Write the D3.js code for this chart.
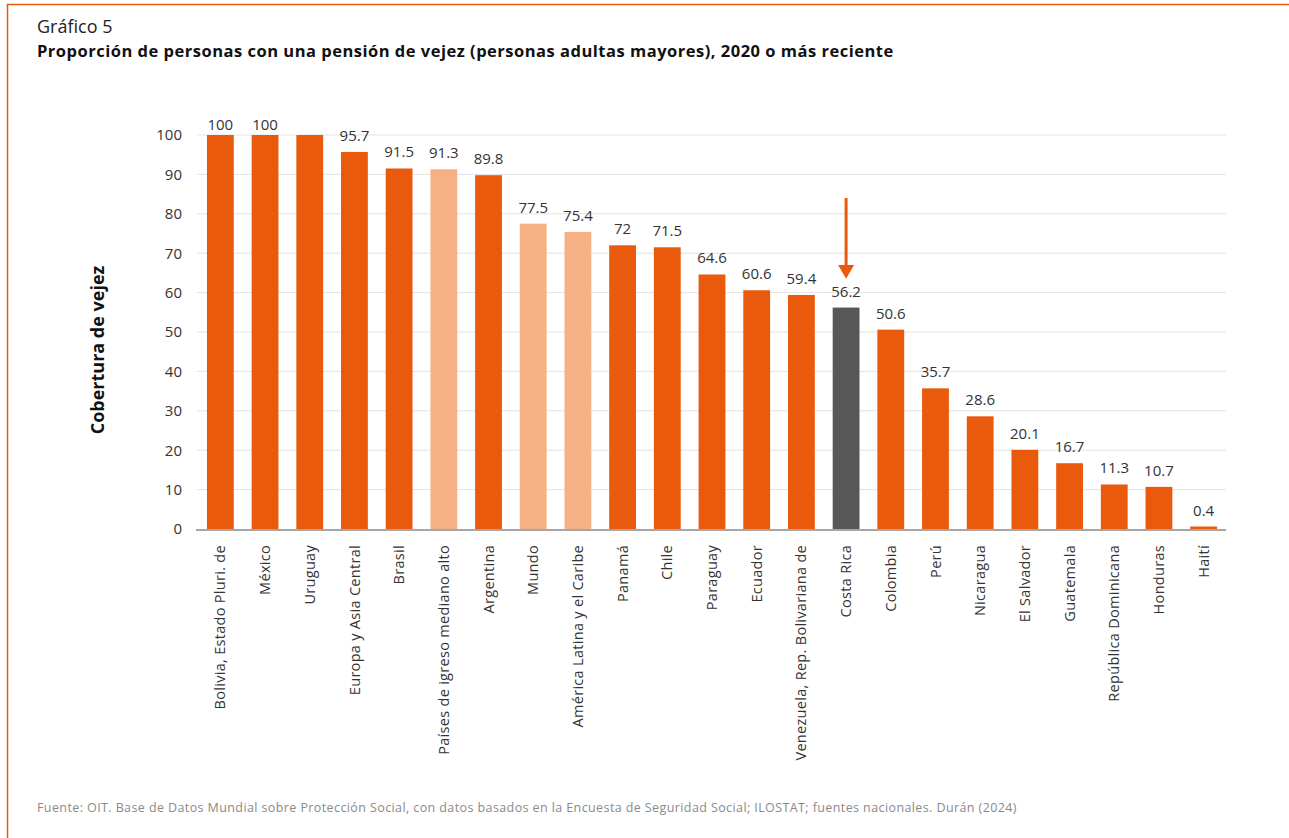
<!DOCTYPE html>
<html>
<head>
<meta charset="utf-8">
<script src="https://cdn.jsdelivr.net/npm/d3@7"></script>
<style>
  body { margin: 0; background: #fff; }
  svg { display: block; font-family: "Open Sans", "Noto Sans", sans-serif; }
</style>
</head>
<body>
<div class="svg-div"></div>
<script>
// datos del grafico
var paises = ["Bolivia, Estado Pluri. de", "México", "Uruguay", "Europa y Asia Central", "Brasil",
  "Países de igreso mediano alto", "Argentina", "Mundo", "América Latina y el Caribe", "Panamá",
  "Chile", "Paraguay", "Ecuador", "Venezuela, Rep. Bolivariana de", "Costa Rica", "Colombia",
  "Perú", "Nicaragua", "El Salvador", "Guatemala", "República Dominicana", "Honduras", "Haití"];
var cobertura = [100, 100, 100, 95.7, 91.5, 91.3, 89.8, 77.5, 75.4, 72, 71.5, 64.6, 60.6, 59.4,
  56.2, 50.6, 35.7, 28.6, 20.1, 16.7, 11.3, 10.7, 0.4];
// etiqueta de cada barra (Uruguay no tiene)
var etiquetas = ["100", "100", "", "95.7", "91.5", "91.3", "89.8", "77.5", "75.4", "72", "71.5",
  "64.6", "60.6", "59.4", "56.2", "50.6", "35.7", "28.6", "20.1", "16.7", "11.3", "10.7", "0.4"];
// tipo: pais, agregado o destacado
var tipo = ["p", "p", "p", "p", "p", "a", "p", "a", "a", "p", "p", "p", "p", "p", "d", "p",
  "p", "p", "p", "p", "p", "p", "p"];
var yTicks = [0, 10, 20, 30, 40, 50, 60, 70, 80, 90, 100];
var destacado = "Costa Rica";

var w = 1289;
var h = 838;
var colores = { p: "#E95A0C", a: "#F5B183", d: "#575757" };

var svg = d3.select(".svg-div")
  .append("svg")
  .attr("width", w)
  .attr("height", h);

// marco naranja
svg.append("path")
  .attr("d", "M7.5," + h + " V4.5 H" + w)
  .attr("fill", "none")
  .attr("stroke", "#E95A0C")
  .attr("stroke-width", 1.5);

// titulos
svg.append("text")
  .attr("x", 37).attr("y", 33)
  .attr("font-size", 18).attr("fill", "#222")
  .text("Gráfico 5");
svg.append("text")
  .attr("x", 37).attr("y", 57)
  .attr("font-size", 16.5).attr("font-weight", "bold").attr("fill", "#111")
  .attr("letter-spacing", 0.5)
  .text("Proporción de personas con una pensión de vejez (personas adultas mayores), 2020 o más reciente");

var x = d3.scaleBand()
  .domain(paises)
  .range([198, 1226])
  .paddingInner(0.4)
  .paddingOuter(0.2);

var y = d3.scaleLinear()
  .domain([0, 100])
  .range([529, 135]);

// lineas de cuadricula
svg.append("g")
  .selectAll("line")
  .data(yTicks.filter(function(d) { return d > 0; }))
  .enter()
  .append("line")
  .attr("x1", 197).attr("x2", 1226)
  .attr("y1", function(d) { return y(d); })
  .attr("y2", function(d) { return y(d); })
  .attr("stroke", "#e3e3e3")
  .attr("stroke-width", 1);

// eje y
var yAxis = svg.append("g")
  .attr("transform", "translate(197,0)")
  .call(d3.axisLeft(y).tickValues(yTicks).tickSize(0).tickPadding(15));
yAxis.select(".domain").remove();
yAxis.selectAll("text")
  .attr("font-size", 15)
  .attr("fill", "#333")
  .attr("font-family", "Open Sans, sans-serif");

svg.append("text")
  .attr("transform", "translate(104,350) rotate(-90)")
  .attr("text-anchor", "middle")
  .attr("font-size", 18)
  .attr("font-weight", "bold")
  .attr("fill", "#111")
  .text("Cobertura de vejez");

// eje x (antes de las barras, para que Haití se vea)
var xAxis = svg.append("g")
  .attr("transform", "translate(0," + y(0) + ")")
  .call(d3.axisBottom(x).tickSize(0).tickPadding(0));
xAxis.select(".domain")
  .attr("d", "M196,1 H1226")
  .attr("stroke", "#a6a6a6")
  .attr("stroke-width", 2);
xAxis.selectAll("text")
  .attr("transform", "translate(0,16) rotate(-90)")
  .attr("text-anchor", "end")
  .attr("dy", "0.35em")
  .attr("dx", 0)
  .attr("y", 0)
  .attr("x", 0)
  .attr("font-size", 14.5)
  .attr("letter-spacing", 0.3)
  .attr("fill", "#333")
  .attr("font-family", "Open Sans, sans-serif");

// barras
svg.append("g")
  .selectAll("rect")
  .data(cobertura)
  .enter()
  .append("rect")
  .attr("x", function(d, i) { return x(paises[i]); })
  .attr("y", function(d) { return Math.min(y(d), y(0) - 2.5); })
  .attr("width", x.bandwidth())
  .attr("height", function(d) { return Math.max(y(0) - y(d), 2.5); })
  .attr("fill", function(d, i) { return colores[tipo[i]]; });

// etiquetas de valor
svg.append("g")
  .selectAll("text")
  .data(cobertura)
  .enter()
  .append("text")
  .attr("x", function(d, i) { return x(paises[i]) + x.bandwidth() / 2; })
  .attr("y", function(d) { return Math.max(y(d) - 11, 130); })
  .attr("text-anchor", "middle")
  .attr("font-size", 15)
  .attr("fill", "#333")
  .text(function(d, i) { return etiquetas[i]; });

// flecha sobre Costa Rica
var ax = x(destacado) + x.bandwidth() / 2;
svg.append("line")
  .attr("x1", ax).attr("x2", ax)
  .attr("y1", y(84)).attr("y2", y(66))
  .attr("stroke", "#E95A0C")
  .attr("stroke-width", 3);
svg.append("path")
  .attr("d", "M" + (ax - 8) + "," + y(67) + " L" + (ax + 8) + "," + y(67) + " L" + ax + "," + y(63.5) + " Z")
  .attr("fill", "#E95A0C");

// fuente
svg.append("text")
  .attr("x", 37).attr("y", 812)
  .attr("font-size", 12.5)
  .attr("letter-spacing", 0.4)
  .attr("fill", "#8a8a8a")
  .text("Fuente: OIT. Base de Datos Mundial sobre Protección Social, con datos basados en la Encuesta de Seguridad Social; ILOSTAT; fuentes nacionales. Durán (2024)");
</script>
</body>
</html>
